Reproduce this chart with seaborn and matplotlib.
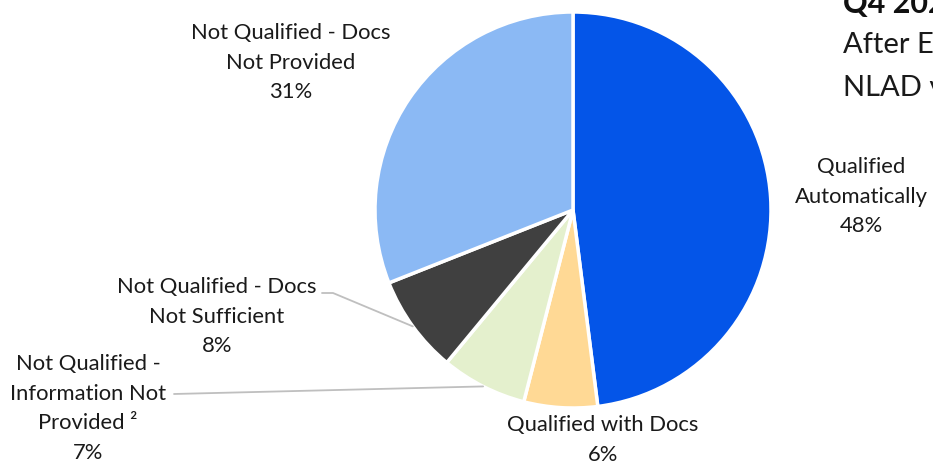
import matplotlib
matplotlib.use("Agg")
import matplotlib.pyplot as plt
import seaborn as sns
import numpy as np

# slices, clockwise from 12 o'clock
categories = ["Qualified\nAutomatically",
              "Qualified with Docs",
              "Not Qualified -\nInformation Not\nProvided \u00b2",
              "Not Qualified - Docs\nNot Sufficient",
              "Not Qualified - Docs\nNot Provided"]
shares = [48, 6, 7, 8, 31]
colors = ["#0455E8", "#FFD995", "#E4F0CD", "#404040", "#8BB9F4"]

sns.set_theme(style="white")
plt.rcParams['font.family'] = ['Lato', 'DejaVu Sans']

W, H = 933, 465
fig = plt.figure(figsize=(W / 100, H / 100), dpi=100)
cx, cy, r = 573, 210, 198
ax = fig.add_axes([(cx - r) / W, 1 - (cy + r) / H, 2 * r / W, 2 * r / H])
ax.pie(shares, colors=colors, startangle=90, counterclock=False, radius=1,
       wedgeprops=dict(edgecolor="white", linewidth=2.5))
ax.set_xlim(-1, 1)
ax.set_ylim(-1, 1)
ax.set_aspect("auto")
ax.axis("off")


def px(x, y):
    return (x - cx) / r, (cy - y) / r


# label anchors in pixels (centre x, first line centre y)
label_pos = [(861, 165), (603, 423), (88, 362), (217, 285), (291, 31)]
fs = 15.8
for cat, val, (lx, ly) in zip(categories, shares, label_pos):
    txt = cat + "\n" + f"{val}%"
    x, y = px(lx, ly - 8)
    ax.text(x, y, txt, ha="center", va="top", fontsize=fs, color="#1a1a1a",
            linespacing=1.6, clip_on=False)

# leader lines to the outer edge at the middle of each small slice
cum = np.cumsum([0] + shares)
mid = {i: np.deg2rad((cum[i] + cum[i + 1]) / 2 * 3.6) for i in range(len(shares))}
for i, pts in [(3, [(322, 293), (333, 293)]), (2, [(174, 394)])]:
    ex, ey = np.sin(mid[i]), np.cos(mid[i])
    xs = [px(*p)[0] for p in pts] + [ex]
    ys = [px(*p)[1] for p in pts] + [ey]
    ax.plot(xs, ys, color="#BFBFBF", lw=1.3, clip_on=False)

# title block cut by the right edge, as in the source slide
fig.text(843 / W, 1 - 13 / H, "Q4 2023 NLAD Results", fontsize=22, weight="bold",
         ha="left", va="baseline", color="#111111")
fig.text(843 / W, 1 - 45 / H, "After Eligibility Check", fontsize=21,
         ha="left", va="center", color="#1a1a1a")
fig.text(843 / W, 1 - 88 / H, "NLAD verification", fontsize=21,
         ha="left", va="center", color="#1a1a1a")

fig.savefig("out.png", dpi=100)
